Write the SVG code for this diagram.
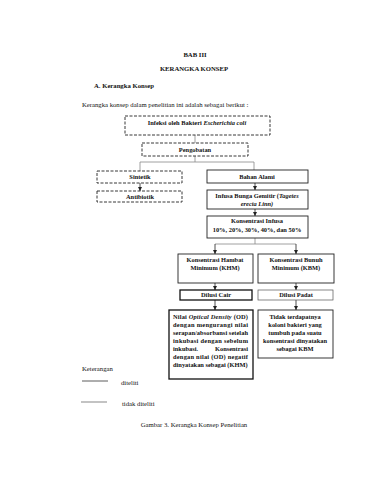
<svg xmlns="http://www.w3.org/2000/svg" width="371" height="480" viewBox="0 0 371 480">
<style>
text{font-family:"Liberation Serif","Times New Roman",serif;fill:#111}
.t{font-size:6.7px}
.b{font-size:6.4px;font-weight:bold;text-anchor:middle}
.bl{font-size:6.4px;font-weight:bold}
.h{font-size:6.7px;font-weight:bold;text-anchor:middle}
.dash{fill:#fff;stroke:#222;stroke-width:0.9;stroke-dasharray:3 1.5}
.solid{fill:#fff;stroke:#222;stroke-width:0.9}
.thick{fill:#fff;stroke:#111;stroke-width:1.3}
.thin{fill:#fff;stroke:#555;stroke-width:0.7}
.c{fill:none;stroke:#888;stroke-width:0.8}
.a{fill:none;stroke:#222;stroke-width:0.8;marker-end:url(#ah)}
</style>
<defs>
<marker id="ah" viewBox="0 0 6 6" refX="6" refY="3" markerWidth="4" markerHeight="4" orient="auto" markerUnits="userSpaceOnUse">
<path d="M0,0 L6,3 L0,6 z" fill="#222"/>
</marker>
</defs>
<rect width="371" height="480" fill="#fff"/>
<g id="header">
<text class="h" x="195" y="57">BAB III</text>
<text class="h" x="194" y="71">KERANGKA KONSEP</text>
<text class="t" x="94" y="88" font-weight="bold">A.  Kerangka Konsep</text>
<text class="t" x="82" y="107">Kerangka konsep dalam penelitian ini adalah sebagai berikut :</text>
</g>
<g id="connectors">
<path class="c" d="M195,135 V143"/>
<path class="c" d="M195,156 V162 M140,162 H254 M140,162 V171 M254,162 V170"/>
<path class="a" d="M140,183 V191"/>
<path class="a" d="M255,183 V190"/>
<path class="a" d="M255,209 V216"/>
<path class="c" d="M255,238 V244 M215,244 H296"/>
<path class="a" d="M215,244 V254"/>
<path class="a" d="M296,244 V254"/>
<path class="a" d="M215,283 V290"/>
<path class="a" d="M296,283 V290"/>
<path class="a" d="M215,300 V310"/>
<path class="a" d="M296,300 V310"/>
</g>
<g id="infeksi">
<rect class="dash" x="125" y="116" width="145" height="19"/>
<text class="b" x="197" y="124.5">Infeksi oleh Bakteri <tspan font-style="italic">Escherichia coli</tspan></text>
</g>
<g id="pengobatan">
<rect class="dash" x="142" y="143" width="106" height="13"/>
<text class="b" x="195" y="151.5">Pengobatan</text>
</g>
<g id="sintetik">
<rect class="dash" x="97" y="171" width="85" height="12"/>
<text class="b" x="140" y="179">Sintetik</text>
</g>
<g id="bahan-alami">
<rect class="solid" x="207" y="170" width="101" height="13"/>
<text class="b" x="257" y="178.5">Bahan Alami</text>
</g>
<g id="antibiotik">
<rect class="dash" x="97" y="191" width="85" height="11"/>
<text class="b" x="140" y="198.5">Antibiotik</text>
</g>
<g id="infusa">
<rect class="solid" x="207" y="190" width="101" height="19"/>
<text class="b" x="257" y="198">Infusa Bunga Gemitir (<tspan font-style="italic">Tagetes</tspan></text>
<text class="b" x="257" y="206" font-style="italic">erecta Linn)</text>
</g>
<g id="konsentrasi-infusa">
<rect class="solid" x="207" y="216" width="101" height="22"/>
<text class="b" x="257" y="223">Konsentrasi Infusa</text>
<text class="b" x="257" y="232">10%, 20%, 30%, 40%, dan 50%</text>
</g>
<g id="khm">
<rect class="solid" x="178" y="254" width="75" height="29"/>
<text class="b" x="215" y="262">Konsentrasi Hambat</text>
<text class="b" x="215" y="270">Minimum (KHM)</text>
</g>
<g id="kbm">
<rect class="solid" x="258" y="254" width="76" height="29"/>
<text class="b" x="296" y="262">Konsentrasi Bunuh</text>
<text class="b" x="296" y="270">Minimum (KBM)</text>
</g>
<g id="dilusi-cair">
<rect class="thick" x="180" y="290" width="72" height="10"/>
<text class="b" x="216" y="297">Dilusi Cair</text>
</g>
<g id="dilusi-padat">
<rect class="thin" x="258" y="290" width="75" height="10"/>
<text class="b" x="296" y="297">Dilusi Padat</text>
</g>
<g id="nilai-od">
<rect class="thick" x="169" y="310" width="84" height="69"/>
<text class="bl" x="173" y="319" textLength="75" lengthAdjust="spacing">Nilai <tspan font-style="italic">Optical Density</tspan> (OD)</text>
<text class="bl" x="173" y="327" textLength="75" lengthAdjust="spacing">dengan mengurangi nilai</text>
<text class="bl" x="173" y="335" textLength="75" lengthAdjust="spacing">serapan/absorbansi setelah</text>
<text class="bl" x="173" y="343" textLength="75" lengthAdjust="spacing">inkubasi dengan sebelum</text>
<text class="bl" x="173" y="351">inkubasi.</text>
<text class="bl" x="248" y="351" text-anchor="end">Konsentrasi</text>
<text class="bl" x="173" y="359" textLength="75" lengthAdjust="spacing">dengan nilai (OD) negatif</text>
<text class="bl" x="173" y="367">dinyatakan sebagai (KHM)</text>
</g>
<g id="tidak-terdapat">
<rect class="solid" x="258" y="310" width="75" height="48"/>
<text class="b" x="295" y="319">Tidak terdapatnya</text>
<text class="b" x="295" y="327">koloni bakteri yang</text>
<text class="b" x="295" y="335">tumbuh pada suatu</text>
<text class="b" x="295" y="343">konsentrasi dinyatakan</text>
<text class="b" x="295" y="351">sebagai KBM</text>
</g>
<g id="legend">
<text class="t" x="82" y="371">Keterangan</text>
<line x1="82" y1="381" x2="108" y2="381" stroke="#333" stroke-width="0.8"/>
<text class="t" x="121" y="385">diteliti</text>
<line x1="81" y1="402" x2="107" y2="402" stroke="#555" stroke-width="0.7"/>
<text class="t" x="122" y="406">tidak diteliti</text>
</g>
<g id="caption">
<text class="t" x="194" y="427" text-anchor="middle">Gambar 3. Kerangka Konsep Penelitian</text>
</g>
</svg>
